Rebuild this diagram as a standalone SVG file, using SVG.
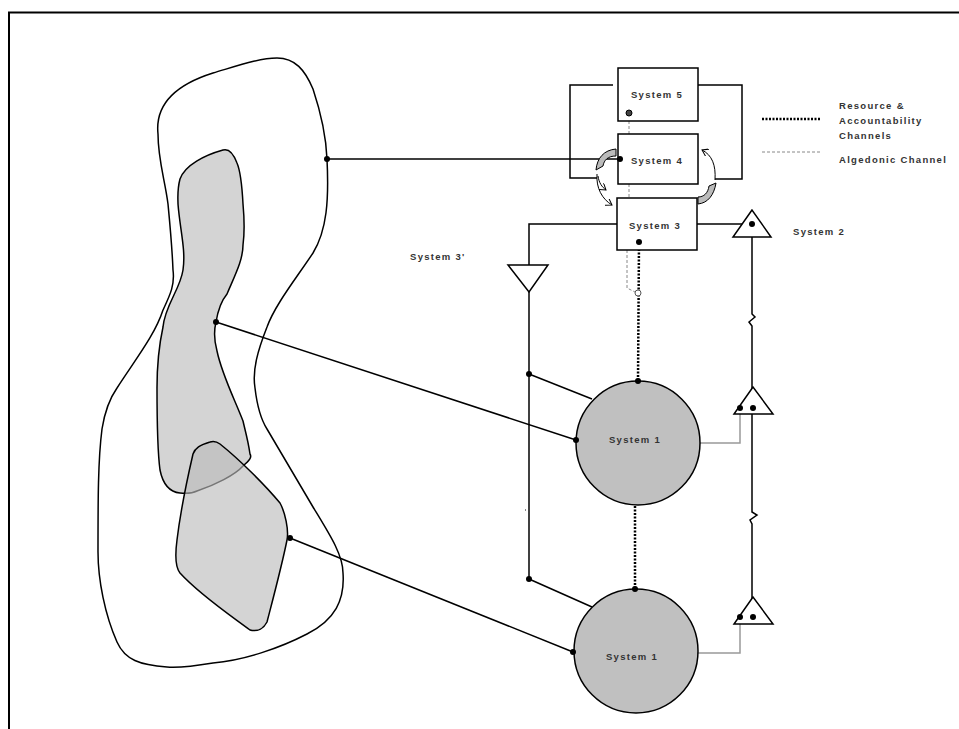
<svg xmlns="http://www.w3.org/2000/svg" width="959" height="729" viewBox="0 0 959 729">
<style>
.t{font-family:"Liberation Sans",Arial,sans-serif;font-size:9.5px;font-weight:bold;letter-spacing:1.3px;fill:#333}
.ln{fill:none;stroke:#000;stroke-width:1.5}
.gl{fill:none;stroke:#999;stroke-width:1.5}
.box{fill:#fff;stroke:#000;stroke-width:1.5}
.tri{fill:#fff;stroke:#000;stroke-width:1.5}
.dot{fill:#000}
.res{fill:none;stroke:#000;stroke-width:2.5;stroke-dasharray:2 1.5}
.alg{fill:none;stroke:#888;stroke-width:1;stroke-dasharray:3 2}
.s1{fill:#c0c0c0;stroke:#000;stroke-width:1.5}
</style>
<defs>
<marker id="ah" markerWidth="8" markerHeight="8" refX="6" refY="4" orient="auto" markerUnits="userSpaceOnUse">
<path d="M0,0 L6,4 L0,8" fill="none" stroke="#000" stroke-width="1"/>
</marker>
</defs>
<rect width="959" height="729" fill="#fff"/>
<g id="frame">
<path d="M9,729 L9,12.5 L959,12.5" fill="none" stroke="#000" stroke-width="2"/>
</g>
<g id="environment">
<path class="ln" d="M158,134 C155,105 175,85 213,73 C240,65 260,58 277,58 C295,58 305,70 313,89 C320,110 326,135 327,159 C329,200 327,230 313,253 C295,280 275,305 267,327 C258,350 252,370 255,388 C257,405 260,418 267,429 C285,460 300,485 313,507 C330,535 343,555 343,573 C345,600 335,620 307,634 C280,648 245,660 213,663 C195,666 180,668 167,667 C140,665 125,660 117,642 C105,615 98,580 98,552 C98,500 98,460 102,429 C105,410 110,398 117,388 C135,360 155,335 163,310 C170,295 175,285 173,270 C172,245 170,225 168,204 C165,180 158,160 158,134 Z"/>
</g>
<g id="operation1">
<path d="M223,150 C205,155 185,165 180,179 C177,190 178,200 178,204 C180,230 186,250 183,270 C180,290 165,305 163,327 C158,350 157,370 157,388 C157,430 158,455 160,470 C163,485 170,492 180,493 C190,494 195,492 197,491 C215,485 235,475 243,466 C250,460 252,457 250,454 C248,440 245,430 243,421 C235,400 222,375 217,351 C214,340 214,330 216,322 C218,310 222,300 227,294 C235,275 243,260 243,245 C245,230 244,215 243,204 C242,185 240,170 237,163 C234,155 230,148 223,150 Z" fill="#d4d4d4" stroke="#000" stroke-width="1.5"/>
</g>
<g id="operation2">
<path d="M210,442 C200,445 195,448 193,454 C187,480 180,515 177,540 C175,555 176,568 180,573 C200,595 230,615 250,630 C258,632 264,628 267,622 C274,595 282,565 287,540 C289,530 285,512 280,503 C265,485 240,460 220,444 C216,441 213,441 210,442 Z" fill="#bbbbbb" fill-opacity="0.63" stroke="#000" stroke-width="1.5"/>
</g>
<g id="connectors">
<line class="ln" x1="327" y1="159" x2="618" y2="159"/>
<line class="ln" x1="216" y1="322" x2="576" y2="440"/>
<line class="ln" x1="290" y1="538" x2="573" y2="652"/>
<polyline class="ln" points="613,85 570,85 570,178 597,178"/>
<polyline class="ln" points="698,85 742,85 742,179 715,179"/>
<polyline class="ln" points="617,224 529,224 529,265"/>
<line class="ln" x1="529" y1="292" x2="529" y2="579"/>
<line class="ln" x1="529" y1="374" x2="592" y2="399"/>
<line class="ln" x1="529" y1="579" x2="592" y2="607"/>
<line class="ln" x1="697" y1="224" x2="752" y2="224"/>
<path class="ln" d="M752,224 L752,314 L755,317 L749,322 L752,326 L752,512 L757,515 L750,520 L752,524 L752,624"/>
<line x1="740" y1="408" x2="753" y2="408" stroke="#000" stroke-width="2.5"/>
<line x1="740" y1="617" x2="753" y2="617" stroke="#000" stroke-width="2.5"/>
<polyline class="gl" points="740,408 740,443 700,443"/>
<polyline class="gl" points="740,617 740,653 698,653"/>
<line class="res" x1="639" y1="242" x2="638" y2="380"/>
<line class="res" x1="635" y1="506" x2="635" y2="588"/>
<line class="alg" x1="629" y1="121" x2="629" y2="134"/>
<line class="alg" x1="629" y1="184" x2="629" y2="198"/>
<polyline class="alg" points="627,250 627,288 635,292"/>
<circle cx="638" cy="293" r="3" fill="#fff" stroke="#555" stroke-width="1"/>
<path d="M616,149 C604,150 597,158 596,170 L603,166 C604,160 608,156 616,156 Z" fill="#bbb" stroke="#000" stroke-width="1"/>
<path d="M597,174 C596,188 602,199 612,205" fill="none" stroke="#000" stroke-width="1" marker-end="url(#ah)"/>
<path d="M598,176 C599,183 602,187 606,190" fill="none" stroke="#000" stroke-width="1" marker-end="url(#ah)"/>
<path d="M715,180 C716,165 712,155 702,150" fill="none" stroke="#000" stroke-width="1" marker-end="url(#ah)"/>
<path d="M698,204 C708,203 714,195 716,183 L709,186 C708,193 704,197 698,197 Z" fill="#bbb" stroke="#000" stroke-width="1"/>
<rect x="525" y="509" width="1" height="2" fill="#888"/>
</g>
<g id="system5">
<rect class="box" x="618" y="68" width="80" height="53"/>
<text class="t" x="657" y="98" text-anchor="middle">System 5</text>
<circle cx="629" cy="113" r="3" fill="#444" stroke="#000" stroke-width="1"/>
</g>
<g id="system4">
<rect class="box" x="618" y="134" width="80" height="50"/>
<text class="t" x="657" y="164" text-anchor="middle">System 4</text>
<circle class="dot" cx="620" cy="159" r="3"/>
</g>
<g id="system3">
<rect class="box" x="617" y="198" width="80" height="52"/>
<text class="t" x="655" y="229" text-anchor="middle">System 3</text>
<circle class="dot" cx="639" cy="242" r="3"/>
</g>
<g id="system3star">
<polygon class="tri" points="508,265 548,265 529,292"/>
<text class="t" x="410" y="260">System 3'</text>
<circle class="dot" cx="529" cy="374" r="3"/>
<circle class="dot" cx="529" cy="579" r="3"/>
</g>
<g id="system2">
<polygon class="tri" points="752,210 733,237 771,237"/>
<circle class="dot" cx="752" cy="224" r="3"/>
<text class="t" x="793" y="235">System 2</text>
<polygon class="tri" points="753,387 734,414 773,414"/>
<circle class="dot" cx="740" cy="408" r="3"/>
<circle class="dot" cx="753" cy="408" r="3"/>
<polygon class="tri" points="753,597 734,624 773,624"/>
<circle class="dot" cx="740" cy="617" r="3"/>
<circle class="dot" cx="753" cy="617" r="3"/>
</g>
<g id="system1a">
<circle class="s1" cx="638" cy="443" r="62"/>
<text class="t" x="635" y="443" text-anchor="middle">System 1</text>
<circle class="dot" cx="638" cy="381" r="3"/>
<circle class="dot" cx="576" cy="440" r="3"/>
</g>
<g id="system1b">
<circle class="s1" cx="636" cy="651" r="62"/>
<text class="t" x="632" y="660" text-anchor="middle">System 1</text>
<circle class="dot" cx="635" cy="589" r="3"/>
<circle class="dot" cx="573" cy="652" r="3"/>
</g>
<g id="env-dots">
<circle class="dot" cx="327" cy="159" r="3"/>
<circle class="dot" cx="216" cy="322" r="3"/>
<circle class="dot" cx="290" cy="538" r="3"/>
</g>
<g id="legend">
<line class="res" x1="762" y1="119" x2="820" y2="119" stroke="#333"/>
<line class="alg" x1="762" y1="152" x2="820" y2="152"/>
<text class="t" x="839" y="109">Resource &amp;</text>
<text class="t" x="839" y="124">Accountability</text>
<text class="t" x="839" y="139">Channels</text>
<text class="t" x="839" y="163">Algedonic Channel</text>
</g>
</svg>
